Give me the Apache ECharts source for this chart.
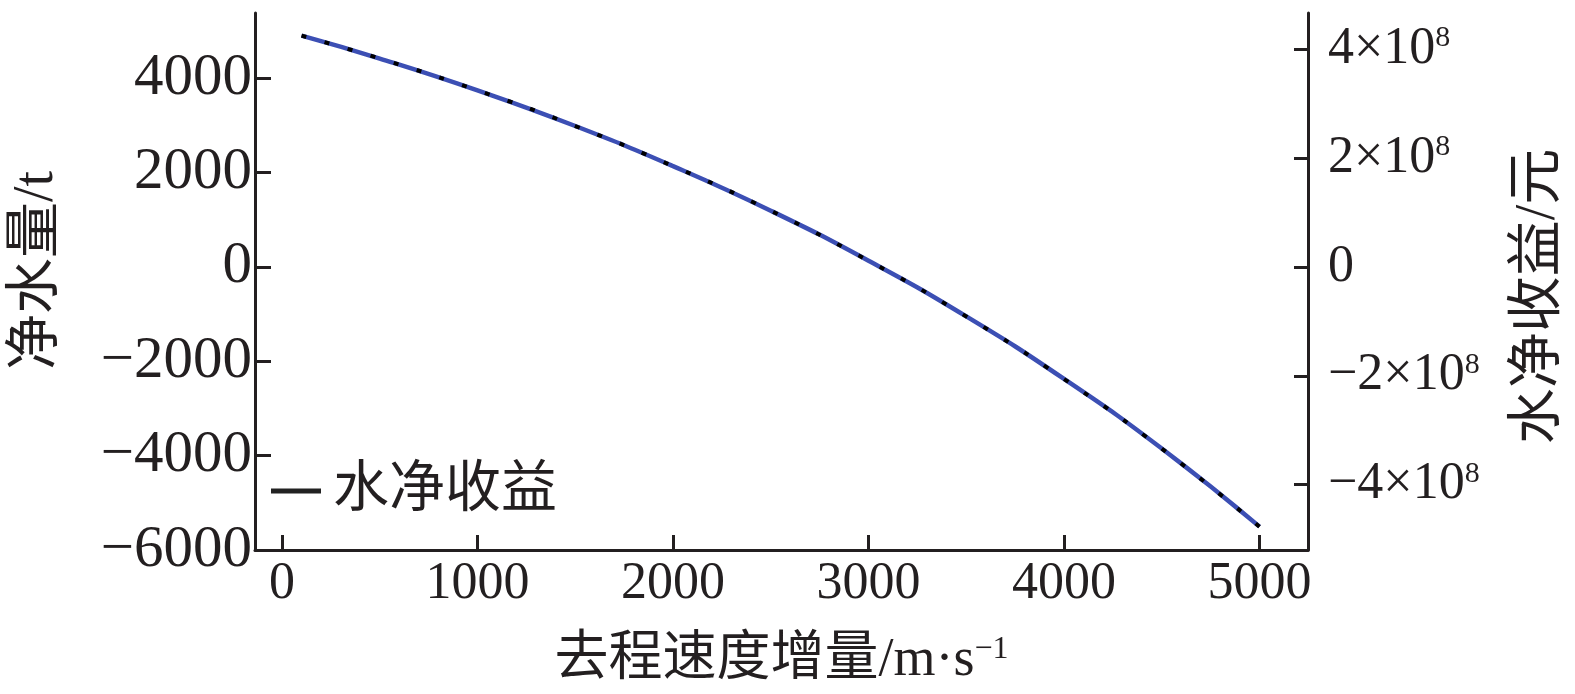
<!DOCTYPE html>
<html lang="zh">
<head>
    <meta charset="UTF-8">
    <title>去程速度增量与净水量</title>
    <script src="https://cdn.jsdelivr.net/npm/echarts@6.0.0/dist/echarts.min.js"></script>
    <style>
        html, body { margin: 0; padding: 0; background: #fff; }
        #chart { width: 1575px; height: 694px; }
    </style>
</head>
<body>
<div id="chart"></div>
<script type="text/javascript">
    // 去程速度增量 (m/s)
    var speedInc = [100, 500, 1000, 1500, 2000, 2500, 3000, 3500, 4000, 4500, 5000];
    // 净水量 (t) - 左轴
    var netWater = [4900, 4415, 3740, 2985, 2135, 1190, 130, -1050, -2375, -3850, -5505];
    // 水净收益 (元) - 右轴
    var netIncome = [4.248e8, 3.828e8, 3.243e8, 2.588e8, 1.851e8, 1.032e8, 0.113e8, -0.910e8, -2.059e8, -3.338e8, -4.773e8];

    var xTicks = [0, 1000, 2000, 3000, 4000, 5000];
    var leftTicks = [-6000, -4000, -2000, 0, 2000, 4000];
    var rightTicks = [-4e8, -2e8, 0, 2e8, 4e8];

    var ink = '#231f20';
    var serif = "'Liberation Serif', 'Noto Sans CJK SC', serif";

    function pairs(xs, ys) {
        var out = [];
        for (var i = 0; i < xs.length; i++) out.push([xs[i], ys[i]]);
        return out;
    }

    var myChart = echarts.init(document.getElementById('chart'));

    myChart.setOption({
        animation: false,
        backgroundColor: '#fff',
        textStyle: { fontFamily: serif, color: ink },
        grid: { left: 255, right: 264, top: 13, bottom: 144, containLabel: false },
        legend: {
            data: ['水净收益'],
            left: 266,
            top: 458,
            icon: 'rect',
            itemWidth: 50,
            itemHeight: 5,
            textStyle: { fontSize: 56, color: ink, fontFamily: serif, padding: [0, 0, 0, 7] }
        },
        xAxis: {
            type: 'value',
            min: -138,
            max: 5248,
            name: '去程速度增量/m·s{sup|−1}',
            nameLocation: 'middle',
            nameGap: 84,
            nameTextStyle: {
                fontSize: 54, color: ink, fontFamily: serif,
                rich: { sup: { fontSize: 32, verticalAlign: 'top', color: ink, fontFamily: serif } }
            },
            axisLine: { show: true, onZero: false, lineStyle: { color: ink, width: 3 } },
            axisTick: { show: true, inside: true, length: 15, customValues: xTicks, lineStyle: { color: ink, width: 3 } },
            axisLabel: {
                customValues: xTicks, fontSize: 52, color: ink, margin: 8, fontFamily: serif,
                formatter: function (v) { return String(v); }
            },
            splitLine: { show: false }
        },
        yAxis: [
            {
                type: 'value',
                position: 'left',
                min: -6000,
                max: 5380,
                name: '净水量/t',
                nameLocation: 'middle',
                nameGap: 190,
                nameRotate: 90,
                nameTextStyle: { fontSize: 56, color: ink, fontFamily: serif, padding: [0, 0, 0, 22] },
                axisLine: { show: true, onZero: false, lineStyle: { color: ink, width: 3 } },
                axisTick: { show: true, inside: true, length: 16, customValues: leftTicks, lineStyle: { color: ink, width: 3 } },
                axisLabel: {
                    customValues: leftTicks, fontSize: 59, color: ink, margin: 3, fontFamily: serif,
                    formatter: function (v) { return String(v).replace('-', '−'); }
                },
                splitLine: { show: false }
            },
            {
                type: 'value',
                position: 'right',
                min: -5.2e8,
                max: 4.664e8,
                name: '水净收益/元',
                nameLocation: 'middle',
                nameGap: 203,
                nameRotate: 90,
                nameTextStyle: { fontSize: 56, color: ink, fontFamily: serif, padding: [0, 30, 0, 0] },
                axisLine: { show: true, onZero: false, lineStyle: { color: ink, width: 3 } },
                axisTick: { show: true, inside: true, length: 14, customValues: rightTicks, lineStyle: { color: ink, width: 3 } },
                axisLabel: {
                    customValues: rightTicks, fontSize: 52, color: ink, margin: 20, fontFamily: serif,
                    formatter: function (v) {
                        if (v === 0) return '0';
                        var m = Math.round(Math.abs(v) / 1e8);
                        return (v < 0 ? '−' : '') + m + '×10{sup|8}';
                    },
                    rich: { sup: { fontSize: 30, verticalAlign: 'top', color: ink, fontFamily: serif } }
                },
                splitLine: { show: false }
            }
        ],
        series: [
            {
                name: '净水量',
                type: 'line',
                yAxisIndex: 0,
                smooth: true,
                showSymbol: false,
                lineStyle: { color: '#3c4fb4', width: 4.5 },
                itemStyle: { color: '#3c4fb4' },
                data: pairs(speedInc, netWater),
                z: 2
            },
            {
                name: '水净收益',
                type: 'line',
                yAxisIndex: 1,
                smooth: true,
                showSymbol: false,
                lineStyle: { color: '#000', width: 4, type: [5, 19] },
                itemStyle: { color: '#222' },
                data: pairs(speedInc, netIncome),
                z: 3
            }
        ]
    });
</script>
</body>
</html>
